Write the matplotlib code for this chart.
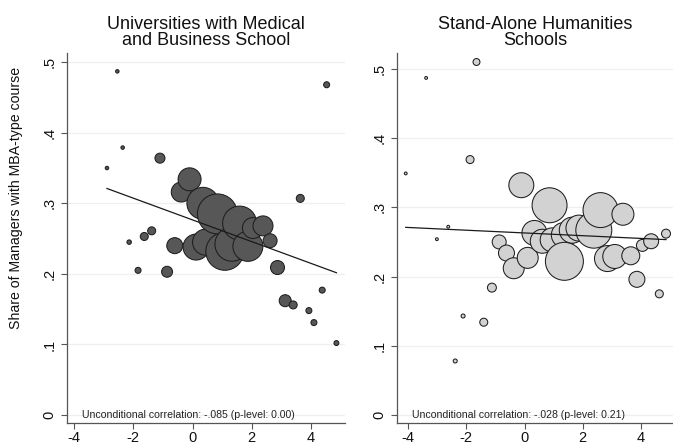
import matplotlib
matplotlib.use("Agg")
import matplotlib.pyplot as plt
import numpy as np

plt.rcParams['font.family'] = ['Liberation Sans', 'DejaVu Sans']

# ---- data: left panel (Universities with Medical and Business School)
left_x = [-2.89, -2.54, -2.36, -2.14, -1.84, -1.63, -1.38, -1.10, -0.86, -0.60,
          -0.38, -0.10, 0.12, 0.35, 0.44, 0.84, 1.09, 1.33, 1.59, 1.87,
          2.04, 2.38, 2.62, 2.87, 3.13, 3.40, 3.64, 3.93, 4.10, 4.38, 4.53, 4.86]
left_y = [0.350, 0.487, 0.379, 0.245, 0.205, 0.253, 0.261, 0.364, 0.203, 0.240,
          0.316, 0.334, 0.238, 0.300, 0.245, 0.285, 0.232, 0.242, 0.272, 0.239,
          0.265, 0.268, 0.247, 0.209, 0.162, 0.156, 0.307, 0.148, 0.131, 0.177, 0.468, 0.102]
left_w = [3, 3, 3, 5, 9, 16, 16, 25, 30, 64,
          100, 132, 169, 256, 169, 400, 361, 289, 289, 225,
          110, 100, 49, 49, 36, 16, 16, 9, 9, 9, 9, 6]
left_fit = (0.2765, -0.0154)   # intercept, slope
left_note = "Unconditional correlation: -.085 (p-level: 0.00)"

# ---- data: right panel (Stand-Alone Humanities Schools)
right_x = [-4.08, -3.38, -3.01, -2.62, -2.38, -2.11, -1.87, -1.65, -1.40, -1.12,
           -0.87, -0.62, -0.37, -0.11, 0.11, 0.34, 0.61, 0.86, 0.95, 1.35,
           1.37, 1.64, 1.87, 2.38, 2.61, 2.85, 3.10, 3.38, 3.65, 3.86,
           4.05, 4.35, 4.63, 4.86]
right_y = [0.349, 0.487, 0.254, 0.272, 0.078, 0.143, 0.369, 0.510, 0.134, 0.184,
           0.250, 0.234, 0.212, 0.332, 0.227, 0.263, 0.251, 0.303, 0.253, 0.260,
           0.222, 0.267, 0.270, 0.267, 0.296, 0.226, 0.229, 0.290, 0.230, 0.196,
           0.245, 0.251, 0.175, 0.262]
right_w = [2, 2, 2, 2, 4, 4, 16, 12, 16, 20,
           49, 64, 110, 156, 110, 156, 144, 306, 144, 156,
           361, 169, 169, 324, 306, 169, 144, 121, 81, 64,
           36, 56, 16, 20]
right_fit = (0.263, -0.00198)
right_note = "Unconditional correlation: -.028 (p-level: 0.21)"

titles = ["Universities with Medical\nand Business School",
          "Stand-Alone Humanities\nSchools"]
ylabel = "Share of Managers with MBA-type course"
yticks = [0, 0.1, 0.2, 0.3, 0.4, 0.5]
yticklabels = ["0", ".1", ".2", ".3", ".4", ".5"]
xticks = [-4, -2, 0, 2, 4]

W, H = 673, 444
fig = plt.figure(figsize=(W / 100, H / 100), dpi=100)

def fx(px):
    return px / W

def fy(py):
    return 1 - py / H

panels = [
    dict(x=left_x, y=left_y, w=left_w, fit=left_fit, note=left_note,
         face="#575757", box=(67, 345), xlim=(-4.24, 5.15), ylim=(-0.0113, 0.513)),
    dict(x=right_x, y=right_y, w=right_w, fit=right_fit, note=right_note,
         face="#d2d2d2", box=(397, 673), xlim=(-4.38, 5.10), ylim=(-0.0116, 0.523)),
]

top_px, bot_px = 53, 423
for i, p in enumerate(panels):
    x0, x1 = p["box"]
    ax = fig.add_axes([fx(x0), fy(bot_px), fx(x1 - x0), (bot_px - top_px) / H])
    ax.set_xlim(*p["xlim"])
    ax.set_ylim(*p["ylim"])
    for t in yticks:
        ax.axhline(t, color="#efefef", lw=0.9, zorder=0)
    xs = np.array(p["x"]); ys = np.array(p["y"]); ws = np.array(p["w"], dtype=float)
    order = np.argsort(xs)
    ax.scatter(xs[order], ys[order], s=ws[order] * 2.07, facecolor=p["face"],
               edgecolor="#1e1e1e", linewidth=0.75, zorder=2)
    b0, b1 = p["fit"]
    lx = np.array([xs.min(), xs.max()])
    ax.plot(lx, b0 + b1 * lx, color="#1a1a1a", lw=0.9, zorder=3)
    ax.text(p["xlim"][0] + 0.5, 0.0, p["note"], fontsize=7.6, va="center", ha="left",
            color="#222222", zorder=4)
    for s in ["top", "right"]:
        ax.spines[s].set_visible(False)
    for s in ["left", "bottom"]:
        ax.spines[s].set_color("#555555")
        ax.spines[s].set_linewidth(0.9)
    ax.set_xticks(xticks)
    ax.set_xticklabels([str(v) for v in xticks], fontsize=10.5)
    ax.set_yticks(yticks)
    ax.set_yticklabels(yticklabels, fontsize=10.5, rotation=90, va="center")
    ax.tick_params(axis="x", pad=1.0)
    ax.tick_params(axis="y", pad=3.0)
    ax.tick_params(axis="both", direction="out", length=4.5, width=0.8,
                   color="#555555", labelcolor="#111111")
    cx = (x0 + x1) / 2
    fig.text(fx(cx), fy(16), titles[i], ha="center", va="top",
             fontsize=13, linespacing=0.95, color="#111111")

fig.text(fx(16), fy(198), ylabel, rotation=90, ha="center", va="center",
         fontsize=10.2, color="#111111")

fig.savefig("out.png", dpi=100)
